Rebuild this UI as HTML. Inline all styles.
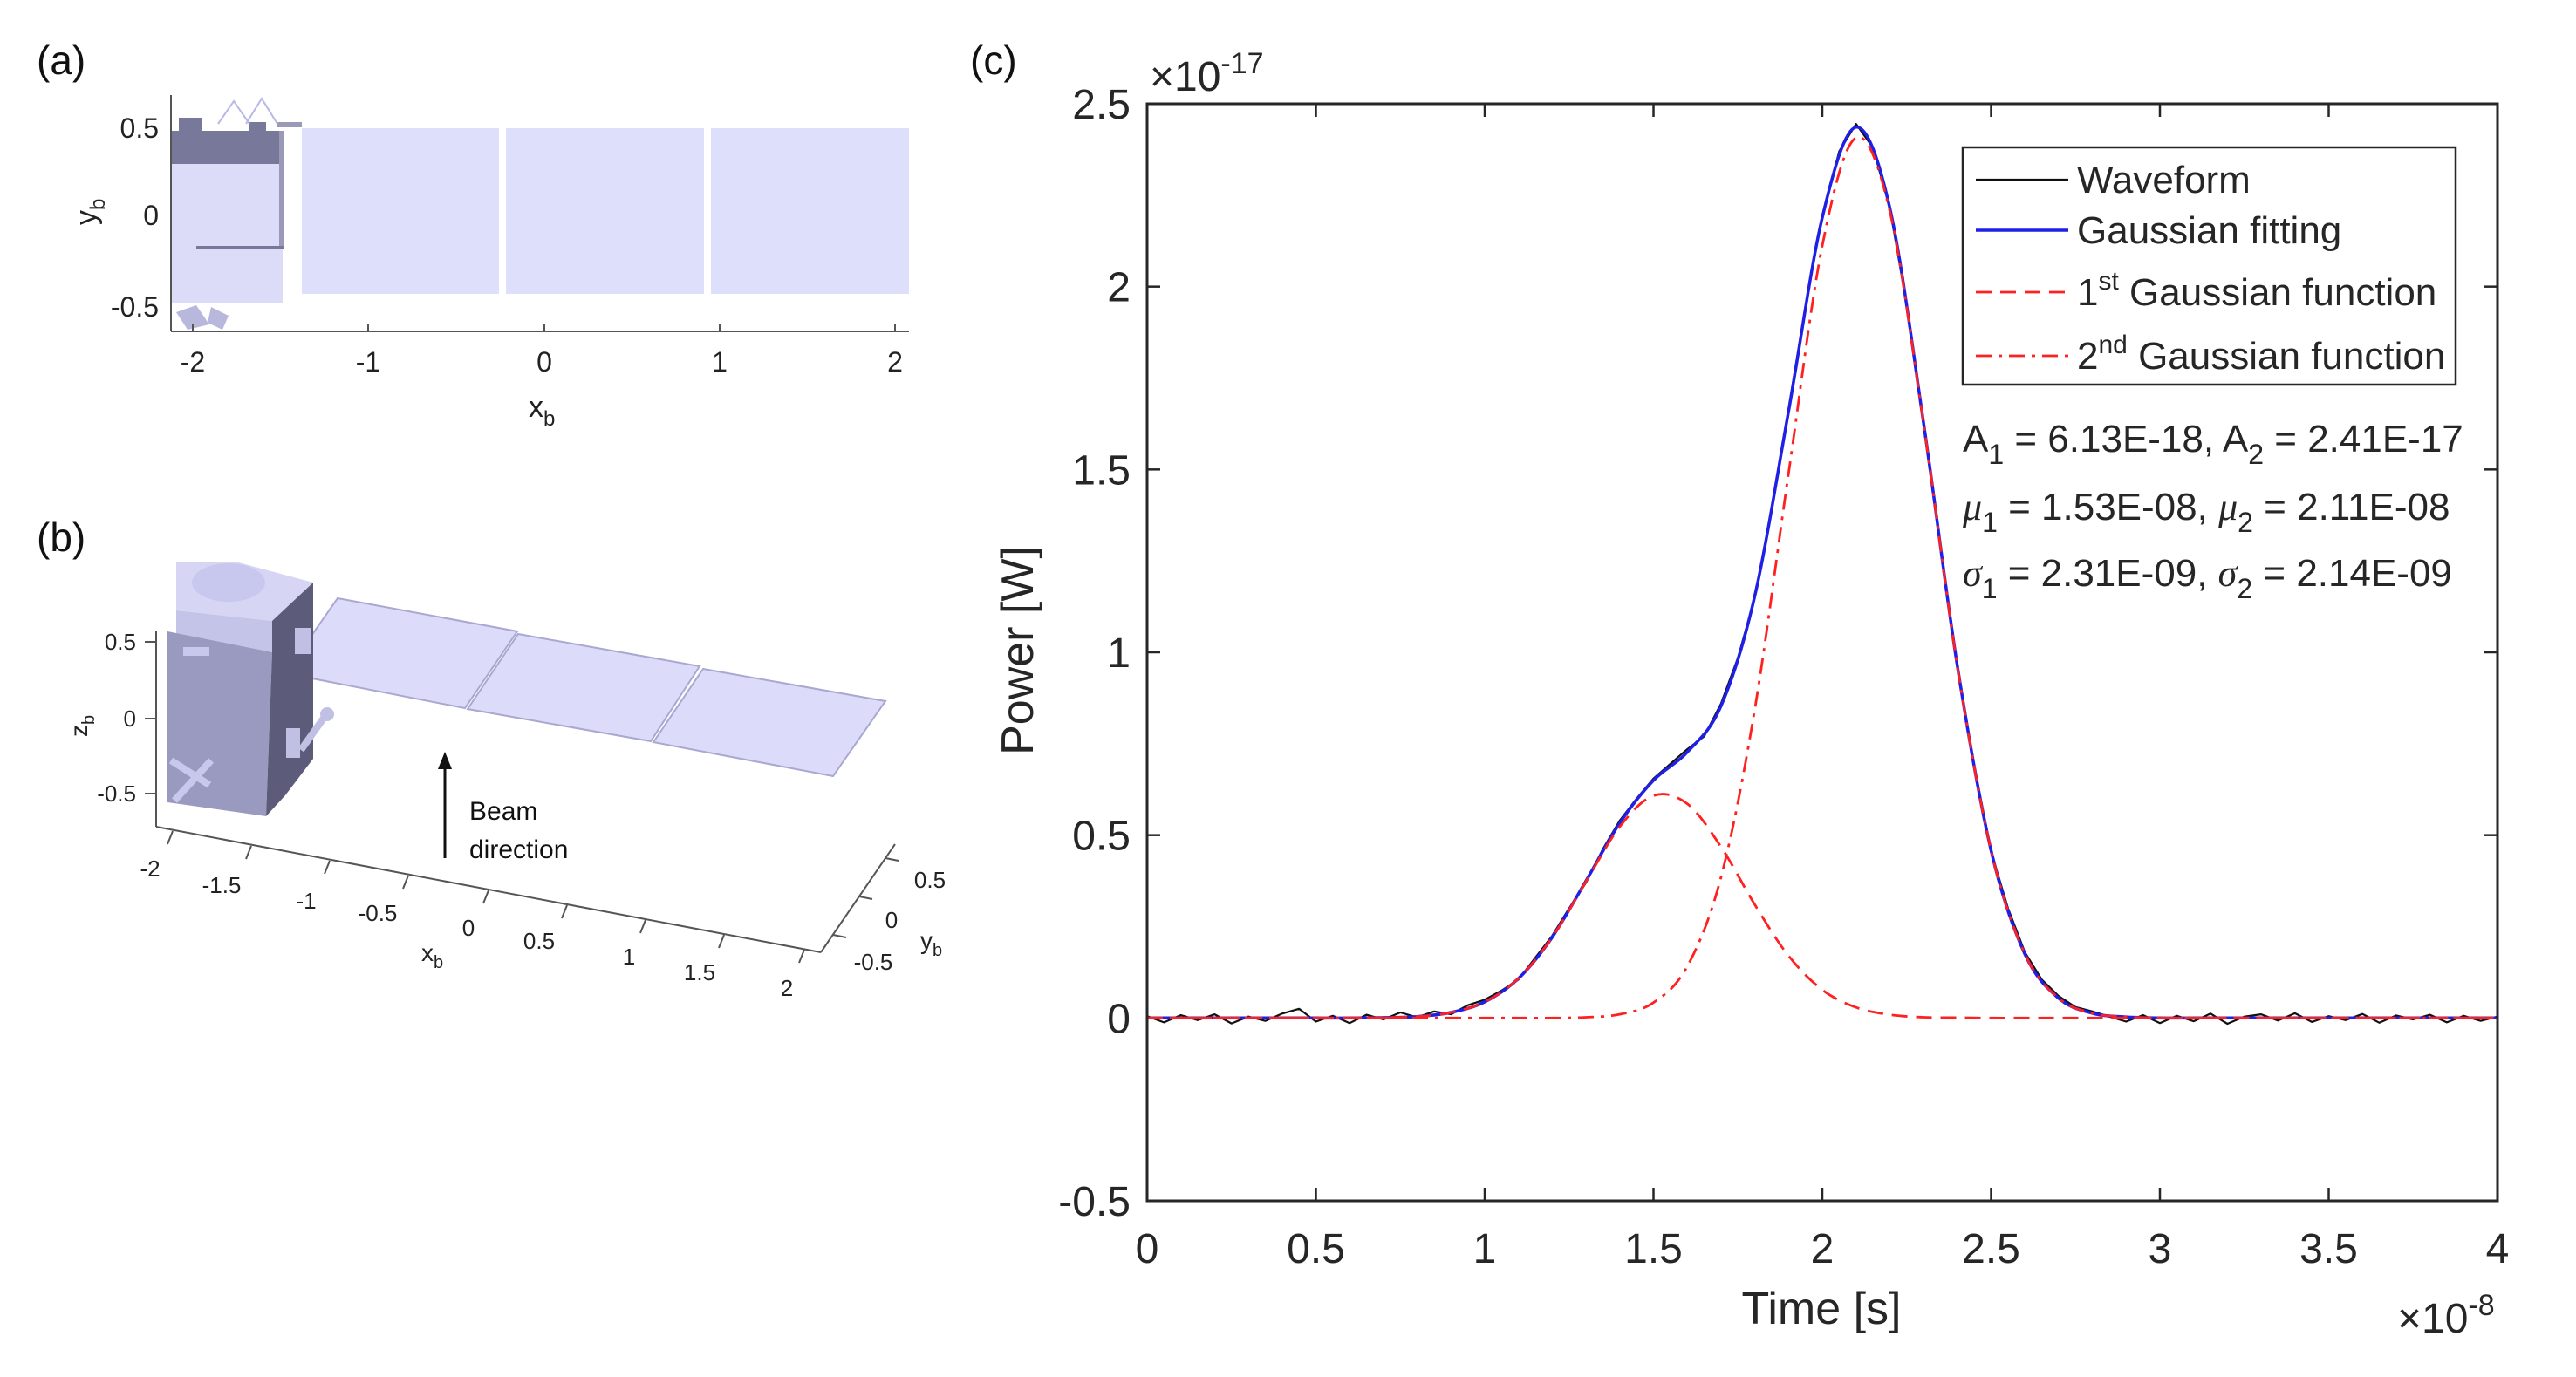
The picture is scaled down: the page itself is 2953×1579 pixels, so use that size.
<!DOCTYPE html>
<html><head><meta charset="utf-8"><title>Satellite model and waveform Gaussian fitting</title>
<style>
html,body{margin:0;padding:0;background:#fff;}
svg{display:block;font-family:"Liberation Sans",Arial,sans-serif;}
</style></head>
<body>
<svg id="fig" width="2953" height="1579" viewBox="0 0 2953 1579" xmlns="http://www.w3.org/2000/svg">
<rect x="0" y="0" width="2953" height="1579" fill="#fff"/>

<!-- Panel (a) -->
<g>
  <text x="42" y="85" font-size="46" fill="#111">(a)</text>
  <rect x="196" y="109" width="846" height="271" fill="#fff"/>
  <!-- bus -->
  <rect x="196" y="188" width="128" height="160" fill="#dcdcf8"/>
  <rect x="196" y="150" width="128" height="38" fill="#78789a"/>
  <rect x="205" y="135" width="26" height="16" fill="#78789a"/>
  <rect x="285" y="140" width="20" height="12" fill="#78789a"/>
  <rect x="318" y="140" width="28" height="6" fill="#9a9ab8"/>
  <rect x="320" y="150" width="6" height="135" fill="#9a9ab8"/>
  <rect x="225" y="282" width="100" height="4" fill="#78789a"/>
  <path d="M250 142 L268 116 L286 142 M282 142 L300 113 L318 142" stroke="#b8b8e8" stroke-width="2" fill="none"/>
  <polygon points="202,358 225,350 240,372 215,378" fill="#b8b8dc"/>
  <polygon points="242,352 262,362 255,378 238,370" fill="#b8b8dc"/>
  <!-- panels -->
  <rect x="346" y="147" width="226" height="190" fill="#dddffb"/>
  <rect x="580" y="147" width="227" height="190" fill="#dddffb"/>
  <rect x="815" y="147" width="227" height="190" fill="#dddffb"/>
  <!-- axes -->
  <line x1="196" y1="109" x2="196" y2="380" stroke="#555" stroke-width="2"/>
  <line x1="196" y1="380" x2="1042" y2="380" stroke="#555" stroke-width="2"/>
  <g stroke="#555" stroke-width="2">
    <line x1="221" y1="380" x2="221" y2="371"/><line x1="422" y1="380" x2="422" y2="371"/>
    <line x1="624" y1="380" x2="624" y2="371"/><line x1="825" y1="380" x2="825" y2="371"/>
    <line x1="1026" y1="380" x2="1026" y2="371"/>
  </g>
  <g font-size="32" fill="#222" text-anchor="middle">
    <text x="221" y="426">-2</text><text x="422" y="426">-1</text><text x="624" y="426">0</text>
    <text x="825" y="426">1</text><text x="1026" y="426">2</text>
  </g>
  <g font-size="32" fill="#222" text-anchor="end">
    <text x="182" y="158">0.5</text><text x="182" y="258">0</text><text x="182" y="363">-0.5</text>
  </g>
  <text x="606" y="478" font-size="34" fill="#222">x<tspan font-size="24" dy="10">b</tspan></text>
  <text transform="translate(110,258) rotate(-90)" font-size="34" fill="#222">y<tspan font-size="24" dy="10">b</tspan></text>
</g>

<!-- Panel (b) -->
<g>
  <text x="42" y="632" font-size="46" fill="#111">(b)</text>
  <!-- solar panels -->
  <polygon points="387,686 593,724 533,812 327,772" fill="#dcdcfa" stroke="#a8a8d0" stroke-width="2"/>
  <polygon points="594,727 802,764 746,850 536,813" fill="#dcdcfa" stroke="#a8a8d0" stroke-width="2"/>
  <polygon points="806,767 1015,804 955,890 749,851" fill="#dcdcfa" stroke="#a8a8d0" stroke-width="2"/>
  <!-- bus -->
  <polygon points="202,644 270,644 359,668 312,712 202,700" fill="#d6d6f4"/>
  <ellipse cx="262" cy="668" rx="42" ry="22" fill="#c8c8ee"/>
  <polygon points="202,700 312,712 312,748 202,735" fill="#c4c4e8"/>
  <polygon points="192,724 312,748 305,936 192,920" fill="#9a9ac0"/>
  <polygon points="312,712 359,668 359,870 327,912 305,936 312,748" fill="#5c5c7a"/>
  <rect x="338" y="720" width="18" height="30" fill="#c0c0e4"/>
  <rect x="328" y="835" width="16" height="34" fill="#c0c0e4"/>
  <path d="M345 860 L372 822" stroke="#c0c0e4" stroke-width="8"/>
  <circle cx="375" cy="819" r="8" fill="#c0c0e4"/>
  <path d="M196 872 L240 900 M200 918 L242 872" stroke="#c8c8ec" stroke-width="8"/>
  <rect x="210" y="742" width="30" height="10" fill="#c8c8ec"/>
  <!-- axes -->
  <line x1="179" y1="724" x2="179" y2="948" stroke="#555" stroke-width="2"/>
  <g stroke="#555" stroke-width="2">
    <line x1="166" y1="736" x2="179" y2="736"/><line x1="166" y1="824" x2="179" y2="824"/><line x1="166" y1="910" x2="179" y2="910"/>
  </g>
  <g font-size="26" fill="#222" text-anchor="end">
    <text x="156" y="745">0.5</text><text x="156" y="833">0</text><text x="156" y="919">-0.5</text>
  </g>
  <text transform="translate(100,845) rotate(-90)" font-size="28" fill="#222">z<tspan font-size="20" dy="8">b</tspan></text>
  <line x1="179" y1="948" x2="941" y2="1092" stroke="#555" stroke-width="2"/>
  <g stroke="#555" stroke-width="2">
    <line x1="198" y1="953" x2="192" y2="968"/><line x1="288" y1="970" x2="282" y2="985"/>
    <line x1="378" y1="987" x2="372" y2="1002"/><line x1="468" y1="1004" x2="462" y2="1019"/>
    <line x1="560" y1="1021" x2="554" y2="1036"/><line x1="650" y1="1038" x2="644" y2="1053"/>
    <line x1="740" y1="1055" x2="734" y2="1070"/><line x1="830" y1="1072" x2="824" y2="1087"/>
    <line x1="922" y1="1089" x2="916" y2="1104"/>
  </g>
  <g font-size="26" fill="#222" text-anchor="middle">
    <text x="172" y="1005">-2</text><text x="254" y="1024">-1.5</text><text x="351" y="1042">-1</text>
    <text x="433" y="1056">-0.5</text><text x="537" y="1073">0</text><text x="618" y="1088">0.5</text>
    <text x="721" y="1106">1</text><text x="802" y="1124">1.5</text><text x="902" y="1142">2</text>
  </g>
  <text x="483" y="1102" font-size="28" fill="#222">x<tspan font-size="20" dy="8">b</tspan></text>
  <line x1="941" y1="1092" x2="1026" y2="968" stroke="#555" stroke-width="2"/>
  <g stroke="#555" stroke-width="2">
    <line x1="1015" y1="984" x2="1030" y2="987"/><line x1="985" y1="1028" x2="1000" y2="1031"/><line x1="955" y1="1072" x2="970" y2="1075"/>
  </g>
  <g font-size="26" fill="#222" text-anchor="middle">
    <text x="1066" y="1018">0.5</text><text x="1022" y="1064">0</text><text x="1001" y="1112">-0.5</text>
  </g>
  <text x="1055" y="1088" font-size="28" fill="#222">y<tspan font-size="20" dy="8">b</tspan></text>
  <!-- beam arrow -->
  <g>
    <line x1="510" y1="984" x2="510" y2="878" stroke="#111" stroke-width="3"/>
    <polygon points="510,862 502,882 518,882" fill="#111"/>
  </g>
  <text x="538" y="940" font-size="30" fill="#111">Beam</text>
  <text x="538" y="984" font-size="30" fill="#111">direction</text>
</g>

<!-- Panel (c) -->
<g id="chartc">
  <text x="1112" y="85" font-size="46" fill="#111">(c)</text>
</g>
</svg>

<script>
// ---- Chart (c) data (x in units of 1e-8 s, y in units of 1e-17 W) ----
const waveStart = 0;
const waveStep = 0.05;
const waveformValues = [0.005,-0.012,0.008,-0.006,0.010,-0.015,0.004,-0.008,0.012,0.025,
 -0.010,0.006,-0.014,0.009,-0.004,0.015,0.002,0.018,0.010,0.035,
 0.050,0.075,0.105,0.165,0.225,0.300,0.370,0.462,0.540,0.600,
 0.655,0.695,0.735,0.770,0.860,0.985,1.150,1.395,1.665,1.945,
 2.195,2.370,2.445,2.380,2.215,1.950,1.620,1.290,0.965,0.690,
 0.455,0.300,0.180,0.105,0.060,0.030,0.018,0.004,-0.010,0.008,
 -0.014,0.006,-0.009,0.012,-0.016,0.004,0.010,-0.007,0.013,-0.011,
 0.005,-0.006,0.011,-0.013,0.007,-0.004,0.009,-0.012,0.006,-0.008,0.004];
const fitStart = 0;
const fitStep = 0.1;
const gauss1Values = [0,0,0,0,0,0,0,0.001,0.004,0.015,
 0.044,0.108,0.221,0.373,0.523,0.608,0.586,0.468,0.310,0.170,
 0.077,0.029,0.009,0.002,0.001,0,0,0,0,0,
 0,0,0,0,0,0,0,0,0,0,0];
const gauss2Values = [0,0,0,0,0,0,0,0,0,0,
 0,0,0,0.002,0.010,0.042,0.141,0.385,0.844,1.489,
 2.112,2.407,2.206,1.625,0.962,0.458,0.175,0.054,0.013,0.003,
 0,0,0,0,0,0,0,0,0,0,0];
const xTicks = [0,0.5,1,1.5,2,2.5,3,3.5,4];
const xTickLabels = ["0","0.5","1","1.5","2","2.5","3","3.5","4"];
const yTicks = [-0.5,0,0.5,1,1.5,2,2.5];
const yTickLabels = ["-0.5","0","0.5","1","1.5","2","2.5"];

const NS = "http://www.w3.org/2000/svg";
const g = document.getElementById('chartc');
const L = 1315, R = 2863, T = 119, B = 1377;
const xMin = 0, xMax = 4, yMin = -0.5, yMax = 2.5;
function sx(v){ return L + (v - xMin) / (xMax - xMin) * (R - L); }
function sy(v){ return B - (v - yMin) / (yMax - yMin) * (B - T); }
function mk(tag, attrs, parent){
  const e = document.createElementNS(NS, tag);
  for (const k in attrs) e.setAttribute(k, attrs[k]);
  (parent || g).appendChild(e);
  return e;
}
function linePath(pts){
  return pts.map((p,i)=>(i?'L':'M')+p[0].toFixed(1)+' '+p[1].toFixed(1)).join(' ');
}
function smoothPath(pts){
  let d = 'M'+pts[0][0].toFixed(1)+' '+pts[0][1].toFixed(1);
  for (let i=0;i<pts.length-1;i++){
    const p0=pts[Math.max(0,i-1)], p1=pts[i], p2=pts[i+1], p3=pts[Math.min(pts.length-1,i+2)];
    const c1=[p1[0]+(p2[0]-p0[0])/6, p1[1]+(p2[1]-p0[1])/6];
    const c2=[p2[0]-(p3[0]-p1[0])/6, p2[1]-(p3[1]-p1[1])/6];
    d += ' C'+c1[0].toFixed(1)+' '+c1[1].toFixed(1)+' '+c2[0].toFixed(1)+' '+c2[1].toFixed(1)+' '+p2[0].toFixed(1)+' '+p2[1].toFixed(1);
  }
  return d;
}

// plot area
const bg = mk('rect',{x:L,y:T,width:R-L,height:B-T,fill:'#fff'});



// ticks
xTicks.forEach((v,i)=>{
  const x = sx(v);
  const t1 = mk('line',{x1:x,y1:B,x2:x,y2:B-15,stroke:'#262626','stroke-width':2.5});
  
  
  const t2 = mk('line',{x1:x,y1:T,x2:x,y2:T+15,stroke:'#262626','stroke-width':2.5});
  
  
  const lb = mk('text',{x:x,y:1448,'font-size':48,fill:'#262626','text-anchor':'middle'});
  lb.textContent = xTickLabels[i];
  
  
});
yTicks.forEach((v,i)=>{
  const y = sy(v);
  const t1 = mk('line',{x1:L,y1:y,x2:L+15,y2:y,stroke:'#262626','stroke-width':2.5});
  
  
  const t2 = mk('line',{x1:R,y1:y,x2:R-15,y2:y,stroke:'#262626','stroke-width':2.5});
  
  
  const lb = mk('text',{x:1296,y:y+17,'font-size':48,fill:'#262626','text-anchor':'end'});
  lb.textContent = yTickLabels[i];
  
  
});

// series
const g1Pts = gauss1Values.map((v,i)=>[sx(fitStart+i*fitStep), sy(v)]);
const g2Pts = gauss2Values.map((v,i)=>[sx(fitStart+i*fitStep), sy(v)]);
const fitPts = gauss1Values.map((v,i)=>[sx(fitStart+i*fitStep), sy(v+gauss2Values[i])]);
const wavePts = waveformValues.map((v,i)=>[sx(waveStart+i*waveStep), sy(v)]);

const wave = mk('path',{d:linePath(wavePts),fill:'none',stroke:'#111','stroke-width':2.2,'stroke-linejoin':'round'});


const fit = mk('path',{d:smoothPath(fitPts),fill:'none',stroke:'#1f1fe6','stroke-width':3.5});


const g1 = mk('path',{d:smoothPath(g1Pts),fill:'none',stroke:'#ff2020','stroke-width':2.8,'stroke-dasharray':'18 10'});


const g2 = mk('path',{d:smoothPath(g2Pts),fill:'none',stroke:'#ff2020','stroke-width':2.8,'stroke-dasharray':'18 8 4 8'});



// axes box
const box = mk('rect',{x:L,y:T,width:R-L,height:B-T,fill:'none',stroke:'#262626','stroke-width':3});



// axis titles & exponents
const xt = mk('text',{x:2088,y:1518,'font-size':52,fill:'#262626','text-anchor':'middle'});
xt.textContent = 'Time [s]';


const yt = mk('text',{transform:'translate(1184,746) rotate(-90)','font-size':52,fill:'#262626','text-anchor':'middle'});
yt.textContent = 'Power [W]';


const ye = mk('text',{x:1318,y:104,'font-size':48,fill:'#262626'});
ye.innerHTML = '×10<tspan font-size="34" dy="-20">-17</tspan>';


const xe = mk('text',{x:2748,y:1528,'font-size':48,fill:'#262626'});
xe.innerHTML = '×10<tspan font-size="34" dy="-20">-8</tspan>';



// legend
const lg = mk('g',{});


mk('rect',{x:2250,y:169,width:565,height:272,fill:'#fff',stroke:'#262626','stroke-width':2.5},lg);
const legItems = [
  {y:206, stroke:'#111', w:2.2, dash:'', html:'Waveform', name:'legend-waveform'},
  {y:264, stroke:'#1f1fe6', w:3.5, dash:'', html:'Gaussian fitting', name:'legend-gaussian-fitting'},
  {y:335, stroke:'#ff2020', w:2.8, dash:'18 10', html:'1<tspan font-size="30" dy="-18">st</tspan><tspan dy="18"> Gaussian function</tspan>', name:'legend-first-gaussian'},
  {y:408, stroke:'#ff2020', w:2.8, dash:'18 8 4 8', html:'2<tspan font-size="30" dy="-18">nd</tspan><tspan dy="18"> Gaussian function</tspan>', name:'legend-second-gaussian'}
];
legItems.forEach(it=>{
  const e = mk('g',{},lg);
  
  
  const attrs = {x1:2265,y1:it.y,x2:2371,y2:it.y,stroke:it.stroke,'stroke-width':it.w};
  if (it.dash) attrs['stroke-dasharray'] = it.dash;
  mk('line',attrs,e);
  const t = mk('text',{x:2381,y:it.y+15,'font-size':44,fill:'#262626'},e);
  t.innerHTML = it.html;
});

// annotation
const ann = mk('g',{'font-size':44,fill:'#262626'});


const a1 = mk('text',{x:2250,y:518},ann);
a1.innerHTML = 'A<tspan font-size="32" dy="14">1</tspan><tspan dy="-14"> = 6.13E-18, A</tspan><tspan font-size="32" dy="14">2</tspan><tspan dy="-14"> = 2.41E-17</tspan>';
const a2 = mk('text',{x:2250,y:596},ann);
a2.innerHTML = '<tspan font-style="italic" font-family="Liberation Serif, serif">μ</tspan><tspan font-size="32" dy="14">1</tspan><tspan dy="-14"> = 1.53E-08, </tspan><tspan font-style="italic" font-family="Liberation Serif, serif">μ</tspan><tspan font-size="32" dy="14">2</tspan><tspan dy="-14"> = 2.11E-08</tspan>';
const a3 = mk('text',{x:2250,y:672},ann);
a3.innerHTML = '<tspan font-style="italic" font-family="Liberation Serif, serif">σ</tspan><tspan font-size="32" dy="14">1</tspan><tspan dy="-14"> = 2.31E-09, </tspan><tspan font-style="italic" font-family="Liberation Serif, serif">σ</tspan><tspan font-size="32" dy="14">2</tspan><tspan dy="-14"> = 2.14E-09</tspan>';
</script>
</body></html>
